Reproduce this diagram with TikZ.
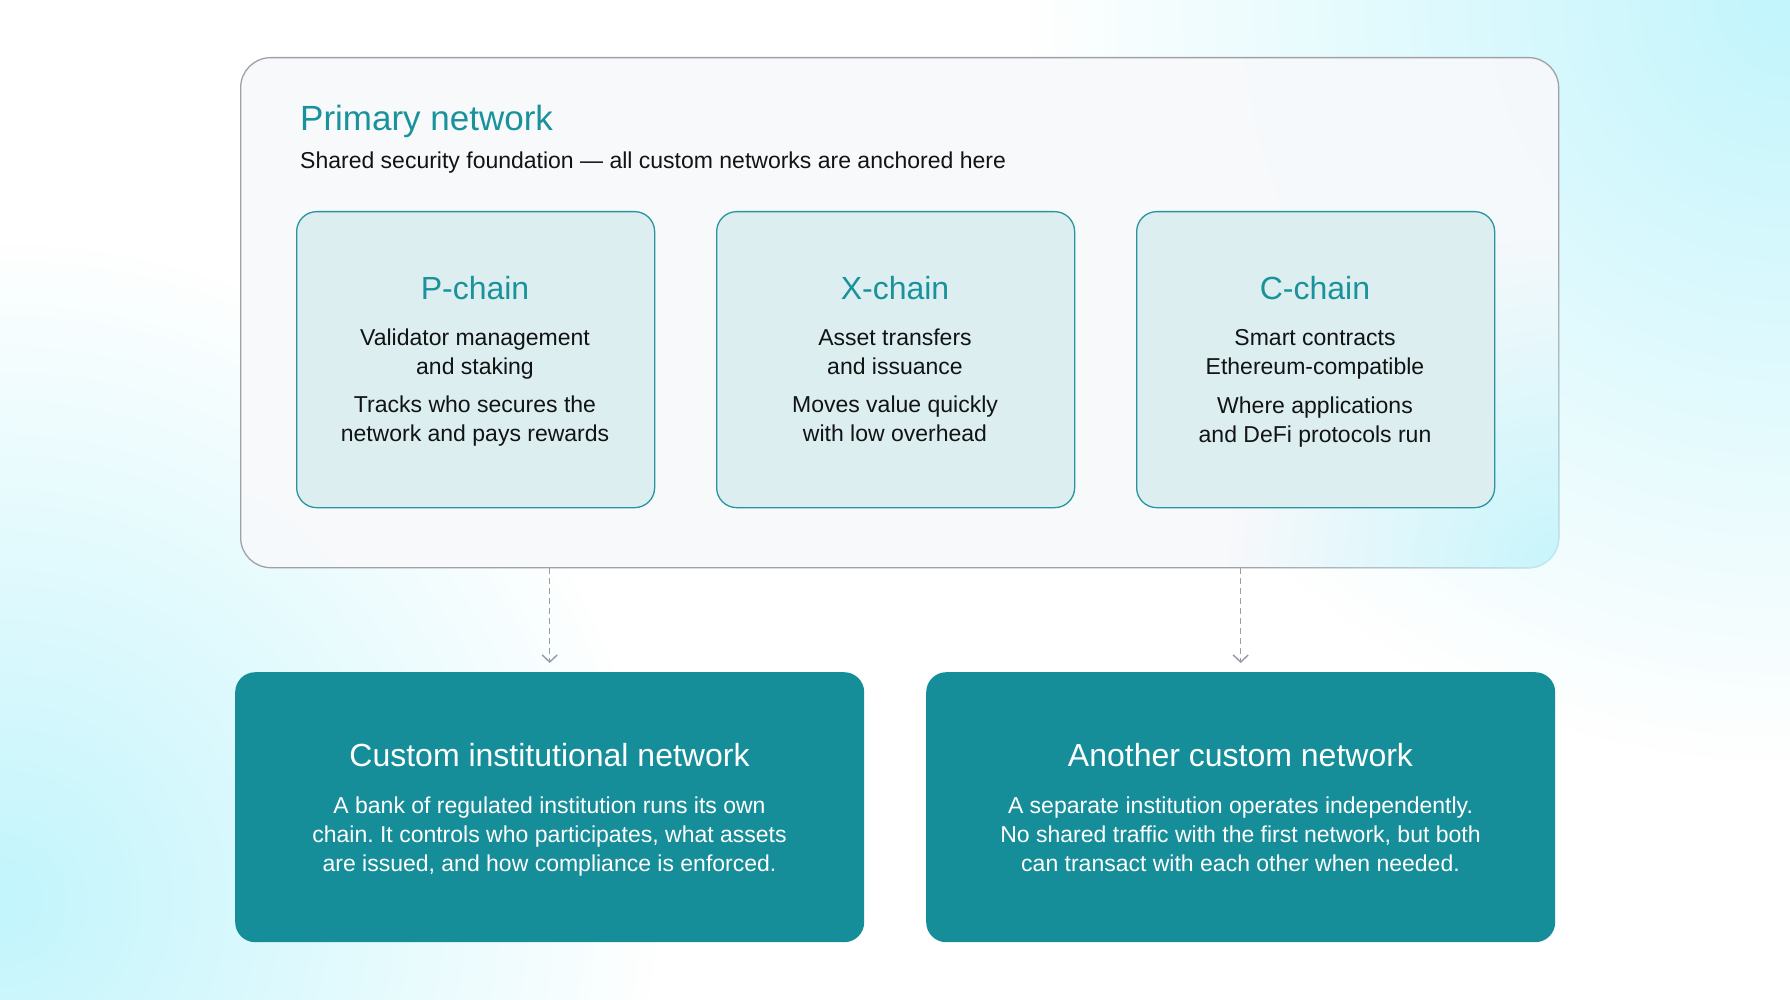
\documentclass[tikz,border=0pt]{standalone}
\usepackage{fontspec}
\setmainfont{Liberation Sans}
\frenchspacing
\usetikzlibrary{arrows.meta,fadings}
\definecolor{teal1}{HTML}{158E99}
\definecolor{tealtxt}{HTML}{1A929B}
\definecolor{chainfill}{HTML}{DCEEF0}
\definecolor{chainline}{HTML}{2794A0}
\definecolor{outerfill}{HTML}{F8F9FB}
\definecolor{outerline}{HTML}{A0A0A9}
\definecolor{arrowc}{HTML}{9D9BAA}
\definecolor{bgcyan}{HTML}{C2F5FC}
\definecolor{bodytxt}{HTML}{111314}
\tikzfading[name=cornerfade, inner color=transparent!0, outer color=transparent!100]
\tikzset{
  outerbox/.style={draw=outerline, line width=1.3pt, fill=outerfill, fill opacity=0.9, rounded corners=30pt, inner sep=0pt, anchor=north west, minimum width=1318pt, minimum height=510pt},
  chainbox/.style={draw=chainline, line width=1.3pt, fill=chainfill, rounded corners=20pt, inner sep=0pt, anchor=north west, minimum width=358pt, minimum height=296pt},
  netbox/.style={fill=teal1, rounded corners=20pt, inner sep=0pt, anchor=north west, minimum width=629pt, minimum height=270pt},
  bigtitle/.style={anchor=base west, inner sep=0pt, text=tealtxt, font=\fontsize{35}{42}\selectfont},
  subtitle/.style={anchor=base west, inner sep=0pt, text=bodytxt, font=\fontsize{23}{28}\selectfont},
  chaintitle/.style={anchor=base, inner sep=0pt, text=tealtxt, font=\fontsize{32}{38}\selectfont},
  chainline/.style={anchor=base, inner sep=0pt, text=bodytxt, font=\fontsize{23}{28}\selectfont},
  nettitle/.style={anchor=base, inner sep=0pt, text=white, font=\fontsize{32}{38}\selectfont},
  netline/.style={anchor=base, inner sep=0pt, text=white, font=\fontsize{23}{28}\selectfont},
  conn/.style={draw=arrowc, line width=1.5pt, dash pattern=on 6pt off 4pt, -{Straight Barb[length=7pt,width=15pt]}}
}
\begin{document}
\begin{tikzpicture}[x=1pt,y=-1pt]
\useasboundingbox (0,0) rectangle (1790,1000);
\fill[white] (0,0) rectangle (1790,1000);
\fill[bgcyan, path fading=cornerfade] (1790,0) circle (760);
\fill[bgcyan, path fading=cornerfade] (0,900) circle (660);

\node[outerbox] (primary) at (240,57) {};
\begin{scope}
  \clip[rounded corners=30pt] (primary.north west) rectangle (primary.south east);
  \fill[bgcyan, path fading=cornerfade, opacity=0.9] (primary.south east) circle (330);
\end{scope}

\node[bigtitle] (ptitle) at (300,131) {Primary network};
\node[subtitle] (psub) at (300,168.5) {Shared security foundation — all custom networks are anchored here};

\node[chainbox] (pchain) at (296,211) {};
\node[chainbox] (xchain) at (716,211) {};
\node[chainbox] (cchain) at (1136,211) {};

\node[chaintitle] (pt) at (475,299) {P-chain};
\node[chainline] (p1) at (475,345.5) {Validator management};
\node[chainline] (p2) at (475,374.5) {and staking};
\node[chainline] (p3) at (475,412) {Tracks who secures the};
\node[chainline] (p4) at (475,441) {network and pays rewards};

\node[chaintitle] (xt) at (895,299) {X-chain};
\node[chainline] (x1) at (895,345.5) {Asset transfers};
\node[chainline] (x2) at (895,374.5) {and issuance};
\node[chainline] (x3) at (895,412) {Moves value quickly};
\node[chainline] (x4) at (895,441) {with low overhead};

\node[chaintitle] (ct) at (1315,299) {C-chain};
\node[chainline] (c1) at (1315,345.5) {Smart contracts};
\node[chainline] (c2) at (1315,374.5) {Ethereum-compatible};
\node[chainline] (c3) at (1315,413) {Where applications};
\node[chainline] (c4) at (1315,442) {and DeFi protocols run};

\node[netbox] (cin) at (235,672) {};
\node[netbox] (acn) at (926,672) {};

\node[nettitle] (cint) at (549.5,766) {Custom institutional network};
\node[netline] (cin1) at (549.5,813) {A bank of regulated institution runs its own};
\node[netline] (cin2) at (549.5,842) {chain. It controls who participates, what assets};
\node[netline] (cin3) at (549.5,871) {are issued, and how compliance is enforced.};

\node[nettitle] (acnt) at (1240.5,766) {Another custom network};
\node[netline] (acn1) at (1240.5,813) {A separate institution operates independently.};
\node[netline] (acn2) at (1240.5,842) {No shared traffic with the first network, but both};
\node[netline] (acn3) at (1240.5,871) {can transact with each other when needed.};

\draw[conn] (primary.south -| cin.north) -- ([yshift=9pt]cin.north);
\draw[conn] (primary.south -| acn.north) -- ([yshift=9pt]acn.north);
\end{tikzpicture}
\end{document}
